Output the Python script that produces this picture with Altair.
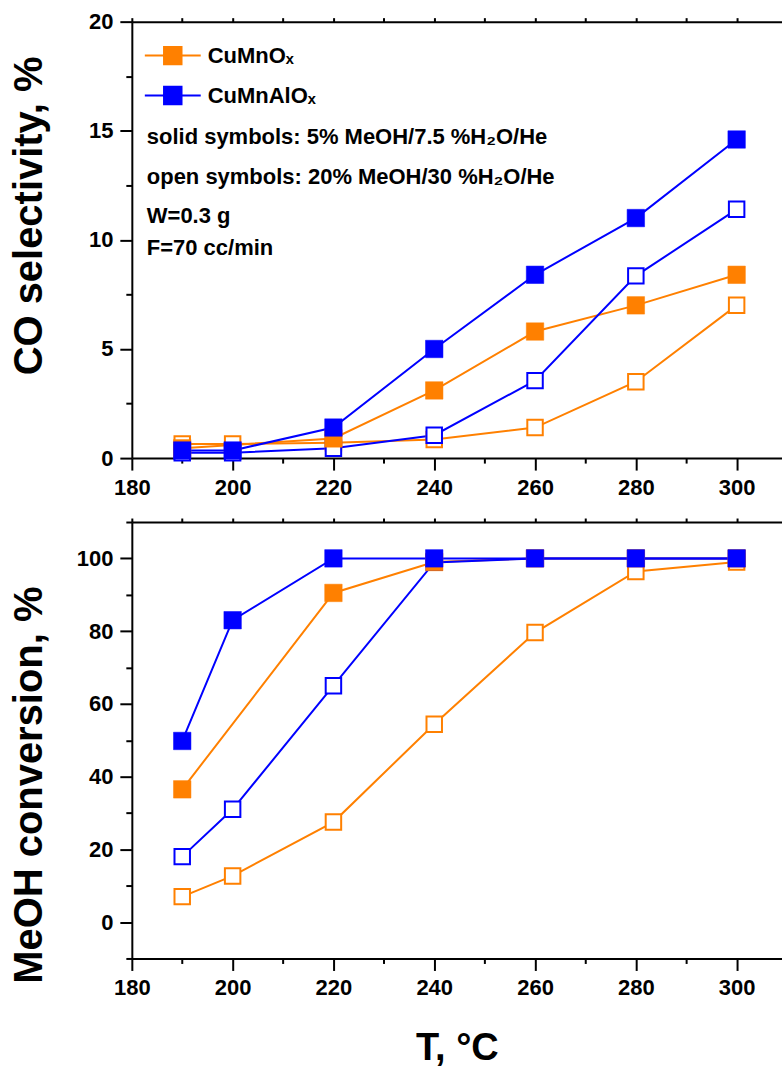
import altair as alt
import pandas as pd

# ---------------- data ----------------
T = [190, 200, 220, 240, 260, 280, 300]
T_CuMnOx_solid = [190, 220, 240, 260, 280, 300]

materials = ["CuMnOₓ", "CuMnAlOₓ"]
material_colors = ["#FF8000", "#0000FF"]

# CO selectivity, %
co_CuMnOx_solid = [0.45, 0.9, 3.1, 5.8, 7.0, 8.4]
co_CuMnOx_open = [0.65, 0.65, 0.7, 0.85, 1.4, 3.5, 7.0]
co_CuMnAlOx_solid = [0.35, 0.35, 1.4, 5.0, 8.4, 11.0, 14.6]
co_CuMnAlOx_open = [0.25, 0.25, 0.45, 1.05, 3.55, 8.35, 11.4]

# MeOH conversion, %
conv_CuMnOx_solid = [36.5, 90.5, 99.0, 100, 100, 100]
conv_CuMnOx_open = [7.0, 12.7, 27.5, 54.4, 79.6, 96.4, 99.0]
conv_CuMnAlOx_solid = [49.8, 83.0, 100, 100, 100, 100, 100]
conv_CuMnAlOx_open = [18.0, 31.0, 65.0, 98.9, 100, 100, 100]

notes = [
    "solid symbols: 5% MeOH/7.5 %H₂O/He",
    "open symbols: 20% MeOH/30 %H₂O/He",
    "W=0.3 g",
    "F=70 cc/min",
]

x_ticks = list(range(180, 310, 10))
x_labels = list(range(180, 310, 20))
co_ticks = [i * 2.5 for i in range(0, 9)]
co_labels = [0, 5, 10, 15, 20]
conv_ticks = list(range(-10, 120, 10))
conv_labels = [0, 20, 40, 60, 80, 100]

FONT = "Liberation Sans"
PANEL_W = 651
PANEL_H = 437


def frame(series):
    rows = []
    for mat, feed, xs, ys in series:
        for x, y in zip(xs, ys):
            rows.append({"material": mat, "feed": feed, "T": x, "v": y})
    return pd.DataFrame(rows)


co_df = frame([
    (materials[0], "open", T, co_CuMnOx_open),
    (materials[0], "solid", T_CuMnOx_solid, co_CuMnOx_solid),
    (materials[1], "open", T, co_CuMnAlOx_open),
    (materials[1], "solid", T, co_CuMnAlOx_solid),
])
conv_df = frame([
    (materials[0], "open", T, conv_CuMnOx_open),
    (materials[0], "solid", T_CuMnOx_solid, conv_CuMnOx_solid),
    (materials[1], "open", T, conv_CuMnAlOx_open),
    (materials[1], "solid", T, conv_CuMnAlOx_solid),
])

color_scale = alt.Scale(domain=materials, range=material_colors)
x_scale = alt.Scale(domain=[180, 309], nice=False, zero=False)

legend_symbol = "M-3.2,0H3.2M-1,-1H1V1H-1Z"


def in_list(vals):
    return "(" + " || ".join(f"datum.value === {v}" for v in vals) + ")"


def make_panel(df, ydomain, yticks, ylabels, ytitle, title_y, xtitle, with_legend):
    y_scale = alt.Scale(domain=ydomain, nice=False, zero=False)
    x_test = in_list(x_labels)
    x_bottom = alt.X(
        "T:Q", scale=x_scale,
        axis=alt.Axis(
            values=x_ticks, orient="bottom",
            labelExpr=f"{x_test} ? datum.label : ''",
            tickSize={"condition": {"test": x_test, "value": 12}, "value": 5},
            title=xtitle, titleFontSize=38, titlePadding=31,
            labelFlush=False, labelOverlap=False, format="d",
        ),
    )
    y_test = in_list(ylabels)
    y_left = alt.Y(
        "v:Q", scale=y_scale,
        axis=alt.Axis(
            values=yticks, orient="left",
            labelExpr=f"{y_test} ? datum.label : ''",
            tickSize={"condition": {"test": y_test, "value": 12}, "value": 6},
            title=ytitle, titleFontSize=40, titleAngle=270,
            titleX=-90, titleY=title_y, titleAlign="center", titleBaseline="alphabetic",
            labelFlush=False, labelOverlap=False, format="d",
        ),
    )
    x_none = alt.X("T:Q", scale=x_scale, axis=None)

    if with_legend:
        leg = alt.Legend(
            title=None, orient="none", legendX=30, legendY=23,
            symbolType=legend_symbol, symbolSize=306, symbolStrokeWidth=2,
            symbolOpacity=1, labelFont=FONT, labelFontSize=22,
            labelFontWeight="bold", labelColor="black", labelOffset=24,
            rowPadding=14, padding=0, labelBaseline="middle",
        )
        other = alt.Undefined
    else:
        leg = None
        other = None

    base = alt.Chart(df)
    lines = base.mark_line(strokeWidth=2).encode(
        x=x_bottom, y=y_left,
        stroke=alt.Stroke("material:N", scale=color_scale, legend=other),
        detail="feed:N",
    )
    top_axis = base.mark_line(opacity=0).encode(
        x=alt.X("T:Q", scale=x_scale,
                axis=alt.Axis(values=x_ticks, orient="top", labels=False, title=None,
                              tickSize=4)),
        y=y_left,
        detail="feed:N",
    )
    open_pts = base.transform_filter(alt.datum.feed == "open").mark_point(
        shape="square", filled=False, fill="white", size=240, strokeWidth=2, opacity=1
    ).encode(
        x=x_none, y=y_left,
        stroke=alt.Stroke("material:N", scale=color_scale, legend=other),
    )
    solid_pts = base.transform_filter(alt.datum.feed == "solid").mark_point(
        shape="square", filled=True, size=306, opacity=1, strokeWidth=0.5
    ).encode(
        x=x_none, y=y_left,
        fill=alt.Fill("material:N", scale=color_scale, legend=leg),
        stroke=alt.Stroke("material:N", scale=color_scale, legend=leg),
    )
    layers = [lines, top_axis, open_pts, solid_pts]
    if with_legend:
        note_y = [123, 163, 202, 234]
        for txt, py in zip(notes, note_y):
            layers.append(
                alt.Chart(pd.DataFrame({"t": [txt]})).mark_text(
                    align="left", baseline="alphabetic", font=FONT,
                    fontSize=22, fontWeight="bold", color="black",
                ).encode(x=alt.value(15), y=alt.value(py), text="t:N")
            )
    return alt.layer(*layers).resolve_axis(x="independent").properties(
        width=PANEL_W, height=PANEL_H
    )


top = make_panel(co_df, [0, 20], co_ticks, co_labels, "CO selectivity, %", 194, None, True)
bottom = make_panel(conv_df, [-10, 110], conv_ticks, conv_labels, "MeOH conversion, %", 263, "T, °C", False)

chart = alt.vconcat(top, bottom, spacing=13).resolve_scale(
    stroke="independent", fill="independent"
).properties(
    padding={"left": 9, "top": 10, "right": 0, "bottom": 0},
    background="white",
).configure_view(stroke=None).configure_axis(
    labelFont=FONT, labelFontSize=22, labelFontWeight="bold", labelColor="black",
    titleFont=FONT, titleFontWeight="bold", titleColor="black",
    domainColor="black", domainWidth=2, tickColor="black", tickWidth=2,
    grid=False, labelPadding=7,
)

chart.save("out.html", embed_options={"renderer": "svg", "actions": False})
